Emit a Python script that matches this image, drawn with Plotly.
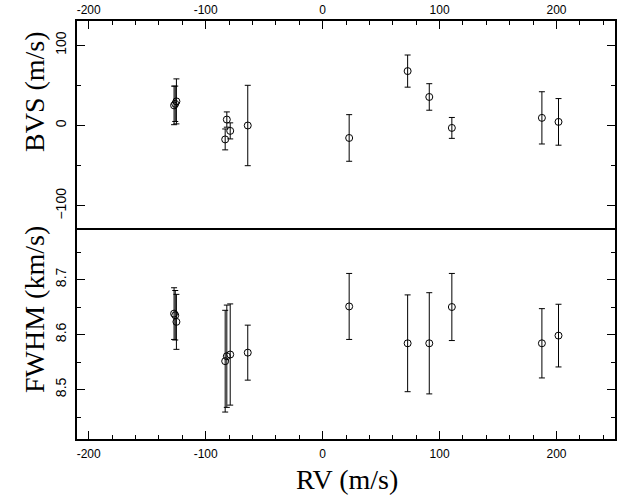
import plotly.graph_objects as go

# ---- data ----
rv = [-127.0, -126.0, -125.0, -83.3, -81.9, -79.0, -64.0, 22.7, 72.7, 91.2, 110.5, 187.5, 201.7]
bvs = [25.0, 27.0, 30.0, -17.3, 7.4, -6.7, 0.0, -15.5, 67.7, 35.5, -3.0, 9.5, 4.5]
bvs_err = [24.0, 22.0, 28.0, 13.0, 9.5, 10.0, 50.0, 29.0, 20.0, 16.5, 13.0, 32.5, 29.0]
fwhm = [8.638, 8.635, 8.623, 8.5515, 8.5605, 8.5636, 8.567, 8.651, 8.584, 8.584, 8.650, 8.584, 8.598]
fwhm_err = [0.047, 0.045, 0.050, 0.0925, 0.093, 0.092, 0.050, 0.060, 0.088, 0.092, 0.061, 0.063, 0.057]

x_tickvals = [-200, -100, 0, 100, 200]
x_ticktext = ["-200", "-100", "0", "100", "200"]
bvs_tickvals = [-100, 0, 100]
bvs_ticktext = ["\u2212100", "0", "100"]
fwhm_tickvals = [8.5, 8.6, 8.7]
fwhm_ticktext = ["8.5", "8.6", "8.7"]

W, H = 627, 497
ML, MR, MT, MB = 77, 12, 21, 58
PW = W - ML - MR
PH = H - MT - MB

def px_x(p):
    return (p - ML) / PW

def px_y(p):
    return (H - MB - p) / PH

marker = dict(symbol="circle-open", size=7, color="black", line=dict(width=1, color="black"))
err_style = dict(type="data", visible=True, color="black", thickness=1, width=3)

fig = go.Figure()
fig.add_trace(go.Scatter(
    x=rv, y=bvs, mode="markers", marker=marker,
    error_y=dict(array=bvs_err, **err_style),
    xaxis="x2", yaxis="y2", showlegend=False,
))
fig.add_trace(go.Scatter(
    x=rv, y=fwhm, mode="markers", marker=marker,
    error_y=dict(array=fwhm_err, **err_style),
    xaxis="x", yaxis="y", showlegend=False,
))

tick_font = dict(family="Liberation Sans, Arial, sans-serif", size=12, color="black")
ytick_font = dict(family="Liberation Sans, Arial, sans-serif", size=14, color="black")
xcommon = dict(
    range=[-210, 250], showgrid=False, zeroline=False, automargin=False,
    showline=True, linewidth=2, linecolor="black",
    ticks="inside", ticklen=8, tickwidth=1, tickcolor="black",
    tickvals=x_tickvals, ticktext=x_ticktext, tickfont=tick_font,
    minor=dict(dtick=20, tick0=0, ticks="inside", ticklen=4, tickwidth=1, tickcolor="black"),
)
ycommon = dict(
    showgrid=False, zeroline=False, automargin=False,
    showline=True, linewidth=2, linecolor="black", mirror="ticks",
    ticks="inside", ticklen=8, tickwidth=1, tickcolor="black",
    tickfont=ytick_font, tickangle=-90, ticklabelstandoff=3,
)

fig.update_layout(
    width=W, height=H,
    margin=dict(l=ML, r=MR, t=MT, b=MB, autoexpand=False),
    paper_bgcolor="white", plot_bgcolor="white",
    xaxis=dict(anchor="y", side="bottom", mirror=True, ticklabelstandoff=3, **xcommon),
    xaxis2=dict(anchor="y2", side="top", matches="x", mirror=False, ticklabelstandoff=0, **xcommon),
    yaxis=dict(domain=[0, 0.5], anchor="x", range=[8.41, 8.79],
               tickvals=fwhm_tickvals, ticktext=fwhm_ticktext,
               minor=dict(dtick=0.05, tick0=8.5, ticks="inside", ticklen=4, tickwidth=1, tickcolor="black"),
               **ycommon),
    yaxis2=dict(domain=[0.5, 1], anchor="x2", range=[-130, 130],
                tickvals=bvs_tickvals, ticktext=bvs_ticktext,
                minor=dict(dtick=50, tick0=0, ticks="inside", ticklen=4, tickwidth=1, tickcolor="black"),
                **ycommon),
)

title_font = dict(family="Liberation Serif, Times New Roman, serif", size=28, color="black")
fig.add_annotation(text="BVS (m/s)", xref="paper", yref="paper",
                   x=px_x(34), y=px_y(92), xanchor="center", yanchor="middle",
                   textangle=-90, showarrow=False, font=title_font)
fig.add_annotation(text="FWHM (km/s)", xref="paper", yref="paper",
                   x=px_x(34), y=px_y(310), xanchor="center", yanchor="middle",
                   textangle=-90, showarrow=False, font=title_font)
fig.add_annotation(text="RV (m/s)", xref="paper", yref="paper",
                   x=px_x(346.7), y=px_y(480), xanchor="center", yanchor="middle",
                   showarrow=False, font=title_font)

fig.write_html("out.html")
